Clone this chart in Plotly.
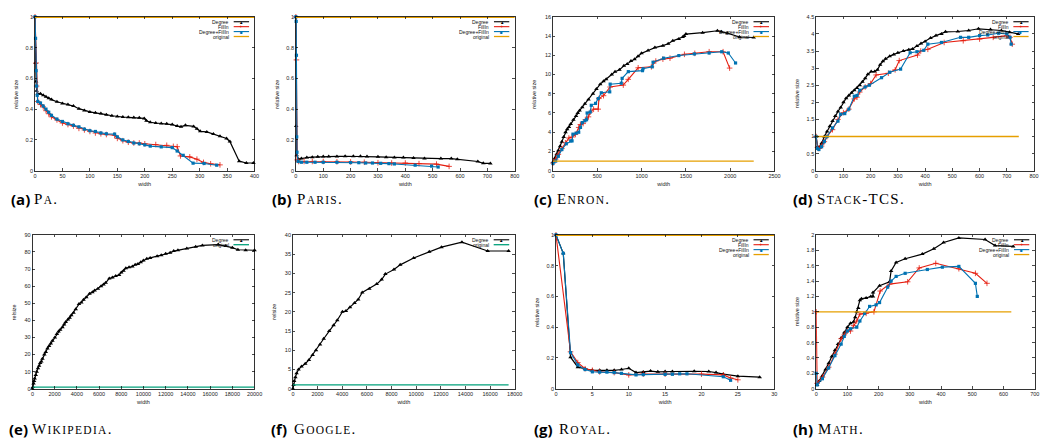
import plotly.graph_objects as go

W, H = 1047, 448

# ---------------- data ----------------
# (a) Pa
a_deg_x = [0, 1, 2, 3, 5, 10, 15, 20, 25, 30, 40, 50, 60, 70, 80, 90, 100, 110, 120, 130, 140, 150, 160, 170, 180, 190, 199, 203, 210, 220, 230, 240, 250, 259, 266, 274, 289, 295, 301, 313, 325, 337, 349, 355, 372, 385, 398]
a_deg_y = [1.0, 0.7, 0.58, 0.52, 0.5, 0.5, 0.49, 0.48, 0.47, 0.462, 0.448, 0.437, 0.43, 0.42, 0.403, 0.392, 0.382, 0.376, 0.372, 0.364, 0.357, 0.352, 0.349, 0.347, 0.345, 0.344, 0.34, 0.325, 0.315, 0.31, 0.307, 0.305, 0.3, 0.29, 0.286, 0.295, 0.288, 0.272, 0.256, 0.252, 0.239, 0.224, 0.209, 0.19, 0.062, 0.05, 0.05]
a_fill_x = [0, 2, 3, 5, 10, 15, 20, 25, 30, 40, 50, 60, 70, 80, 90, 100, 110, 120, 130, 145, 150, 160, 170, 180, 190, 200, 220, 240, 252, 259, 265, 282, 295, 307, 320, 337]
a_fill_y = [1.0, 0.7, 0.55, 0.45, 0.43, 0.415, 0.39, 0.37, 0.35, 0.33, 0.31, 0.30, 0.29, 0.275, 0.265, 0.255, 0.245, 0.24, 0.235, 0.23, 0.21, 0.195, 0.185, 0.18, 0.18, 0.175, 0.17, 0.165, 0.158, 0.156, 0.096, 0.09, 0.075, 0.054, 0.045, 0.038]
a_both_x = [0, 1, 2, 3, 4, 5, 10, 15, 20, 25, 30, 40, 50, 60, 70, 80, 90, 100, 110, 120, 130, 145, 150, 160, 170, 180, 190, 200, 210, 230, 250, 259, 270, 288, 308, 331]
a_both_y = [1.0, 0.86, 0.65, 0.55, 0.49, 0.45, 0.44, 0.42, 0.40, 0.38, 0.36, 0.335, 0.32, 0.305, 0.295, 0.285, 0.27, 0.26, 0.255, 0.245, 0.24, 0.238, 0.22, 0.20, 0.19, 0.18, 0.175, 0.168, 0.16, 0.155, 0.15, 0.128, 0.10, 0.049, 0.047, 0.036]
a_orig_x = [0, 400]
a_orig_y = [1, 1]

# (b) Paris
b_deg_x = [0, 1, 3, 10, 20, 40, 60, 80, 100, 120, 150, 180, 210, 236, 260, 300, 330, 360, 393, 430, 470, 530, 568, 590, 665, 685, 711]
b_deg_y = [1.0, 0.29, 0.1, 0.075, 0.08, 0.085, 0.088, 0.09, 0.092, 0.093, 0.093, 0.094, 0.094, 0.094, 0.092, 0.09, 0.088, 0.086, 0.085, 0.082, 0.08, 0.079, 0.079, 0.075, 0.06, 0.048, 0.047]
b_fill_x = [0, 2, 5, 10, 30, 60, 100, 150, 200, 250, 300, 350, 400, 450, 514, 560]
b_fill_y = [1.0, 0.72, 0.07, 0.06, 0.06, 0.06, 0.06, 0.058, 0.057, 0.055, 0.052, 0.05, 0.05, 0.046, 0.043, 0.028]
b_both_x = [0, 1, 2, 3, 4, 8, 20, 40, 70, 100, 150, 200, 230, 255, 280, 310, 340, 360, 436, 496, 520]
b_both_y = [1.0, 0.97, 0.75, 0.22, 0.12, 0.06, 0.055, 0.055, 0.055, 0.055, 0.055, 0.053, 0.052, 0.05, 0.05, 0.048, 0.046, 0.044, 0.036, 0.03, 0.024]
b_orig_x = [0, 800]
b_orig_y = [1, 1]

# (c) Enron
c_deg_x = [0, 20, 40, 60, 80, 100, 120, 141, 160, 180, 200, 230, 260, 279, 300, 330, 360, 400, 451, 490, 533, 570, 600, 663, 700, 750, 800, 838, 880, 920, 960, 999, 1073, 1150, 1240, 1300, 1352, 1420, 1464, 1480, 1500, 1688, 1855, 1900, 1967, 2105, 2265]
c_deg_y = [0.9, 1.3, 1.7, 2.1, 2.55, 3.0, 3.5, 4.0, 4.3, 4.55, 4.85, 5.3, 5.7, 6.0, 6.25, 6.6, 6.95, 7.4, 8.0, 8.5, 9.0, 9.3, 9.5, 10.0, 10.3, 10.5, 10.9, 11.1, 11.4, 11.6, 11.9, 12.2, 12.5, 12.8, 13.0, 13.2, 13.5, 13.7, 13.9, 14.0, 14.2, 14.35, 14.55, 14.45, 14.3, 13.9, 13.85]
c_fill_x = [0, 30, 60, 100, 140, 179, 215, 253, 290, 309, 340, 365, 400, 421, 458, 510, 518, 570, 644, 793, 849, 961, 1110, 1160, 1240, 1320, 1483, 1600, 1762, 1919, 1993]
c_fill_y = [0.8, 1.2, 1.7, 2.3, 2.9, 3.4, 3.5, 3.76, 4.5, 4.8, 4.9, 5.3, 5.6, 6.1, 6.4, 6.4, 7.5, 7.8, 8.7, 8.9, 9.5, 10.7, 10.8, 11.4, 11.6, 11.7, 12.1, 12.2, 12.37, 12.37, 10.67]
c_both_x = [0, 30, 60, 100, 150, 200, 215, 225, 260, 290, 310, 330, 360, 378, 385, 420, 432, 480, 510, 545, 640, 645, 770, 780, 850, 1010, 1015, 1120, 1129, 1248, 1420, 1595, 1762, 1904, 1978, 2060]
c_both_y = [0.75, 1.0, 1.5, 2.2, 2.8, 3.1, 3.1, 3.8, 3.9, 4.0, 4.5, 5.0, 5.2, 5.3, 6.0, 6.1, 6.8, 7.0, 7.5, 8.1, 8.2, 9.0, 9.1, 9.6, 10.3, 10.4, 10.6, 10.8, 11.28, 11.7, 11.97, 12.14, 12.24, 12.37, 12.24, 11.2]
c_orig_x = [0, 2265]
c_orig_y = [1, 1]

# (d) Stack-TCS
d_deg_x = [0, 5, 10, 20, 30, 40, 50, 60, 70, 80, 90, 100, 110, 120, 130, 140, 150, 160, 170, 180, 190, 202, 215, 225, 235, 245, 255, 270, 285, 300, 320, 340, 354, 370, 385, 400, 420, 440, 460, 475, 520, 560, 596, 640, 680, 710, 742]
d_deg_y = [1.0, 0.7, 0.68, 0.8, 1.0, 1.15, 1.3, 1.45, 1.6, 1.73, 1.85, 2.0, 2.12, 2.2, 2.28, 2.35, 2.42, 2.5, 2.6, 2.7, 2.82, 2.9, 2.9, 2.95, 3.1, 3.2, 3.27, 3.35, 3.4, 3.45, 3.5, 3.54, 3.56, 3.65, 3.72, 3.78, 3.88, 3.95, 4.0, 4.06, 4.07, 4.1, 4.15, 4.13, 4.1, 4.05, 4.0]
d_fill_x = [0, 5, 10, 20, 30, 40, 60, 80, 100, 120, 140, 150, 160, 180, 200, 220, 265, 290, 305, 372, 384, 410, 470, 540, 600, 650, 700, 712, 720]
d_fill_y = [1.0, 0.68, 0.65, 0.72, 0.85, 1.0, 1.2, 1.5, 1.7, 1.8, 2.1, 2.15, 2.3, 2.45, 2.55, 2.8, 2.85, 2.95, 3.22, 3.38, 3.5, 3.55, 3.75, 3.8, 3.85, 3.9, 3.95, 3.9, 3.7]
d_both_x = [0, 5, 10, 20, 30, 40, 60, 80, 90, 105, 120, 140, 150, 160, 180, 195, 240, 270, 310, 345, 370, 395, 410, 460, 530, 560, 600, 630, 670, 700, 712, 716]
d_both_y = [1.0, 0.65, 0.62, 0.7, 0.85, 1.0, 1.25, 1.45, 1.65, 1.67, 1.8, 2.18, 2.2, 2.35, 2.45, 2.5, 2.72, 2.88, 2.97, 3.45, 3.48, 3.52, 3.7, 3.75, 3.9, 3.9, 3.95, 3.97, 4.02, 4.0, 3.9, 3.7]
d_orig_x = [0, 744]
d_orig_y = [1, 1]

# (e) Wikipedia
e_deg_x = [0, 50, 100, 150, 200, 300, 386, 500, 600, 700,
           800, 900, 1070, 1200, 1350, 1500, 1650, 1800, 2020, 2200,
           2350, 2500, 2700, 2850, 3000, 3200, 3350, 3500, 3700, 3900,
           4190, 4400, 4600, 4850, 5140, 5400, 5600, 5900, 6180, 6400,
           6600, 6920, 7200, 7500, 7800, 8000, 8200, 8410, 8700, 9000,
           9250, 9500, 9750, 9990, 10300, 10600, 11230, 11600, 12000, 12400,
           12720, 13100, 13900, 14700, 15300, 16730, 17400, 18000, 18500, 19200,
           20000]
e_deg_y = [0, 1, 3, 4.5, 6, 8, 10, 12, 13.5, 15,
           16, 17.5, 20, 21.5, 23.5, 25, 26.5, 28, 30, 32,
           33.5, 34.5, 36, 37.5, 39, 40.5, 41.5, 43, 44.5, 46.5,
           49.5, 50.5, 52, 53.5, 55.5, 56.5, 57.5, 58.5, 60, 61,
           62, 64.5, 65, 66, 66.5, 68, 69, 70.5, 71, 71.5,
           72.5, 73, 74, 75, 76, 76.5, 77.5, 78, 79, 79.5,
           80.5, 81, 82, 83, 83.8, 84.3, 83.5, 82.5, 81.3, 81,
           81]
e_orig_x = [0, 20000]
e_orig_y = [1, 1]

# (f) Google
f_deg_x = [0, 50, 100, 200, 300, 455, 700, 1000, 1300, 1600,
           1875, 2200, 2500, 2946, 3300, 3600, 4018, 4300, 4634, 5000,
           5300, 5626, 6200, 6800, 7200, 7500, 8200, 8706, 9800, 11063,
           12054, 13715, 15805, 17500]
f_deg_y = [0, 1, 2, 3, 4, 5, 5.8, 6.5, 7.5, 8.8,
           10, 11.5, 13, 15, 16.5, 17.8, 20, 20.2, 21.2, 22.3,
           23.2, 25, 26, 27.2, 28.4, 29.8, 31, 32.2, 34, 35.6,
           36.8, 38.1, 35.8, 35.8]
f_orig_x = [0, 17500]
f_orig_y = [1, 1]

# (g) Royal
g_deg_x = [0, 1, 2, 3, 4, 5, 6, 7, 8, 9, 10, 11, 12, 13, 14, 15, 16, 19, 21, 22, 23, 25, 28]
g_deg_y = [1.0, 0.88, 0.205, 0.14, 0.13, 0.12, 0.12, 0.12, 0.12, 0.125, 0.133, 0.105, 0.108, 0.115, 0.11, 0.112, 0.112, 0.113, 0.112, 0.105, 0.095, 0.082, 0.075]
g_fill_x = [0, 2, 3, 4, 5, 6, 8, 10, 12, 15, 20, 23, 24, 25]
g_fill_y = [1.0, 0.24, 0.17, 0.13, 0.12, 0.11, 0.105, 0.09, 0.095, 0.095, 0.095, 0.09, 0.07, 0.058]
g_both_x = [0, 1, 2, 3, 4, 5, 6, 7, 8, 9, 11, 12, 15, 16, 17, 18, 23, 24]
g_both_y = [1.0, 0.88, 0.235, 0.155, 0.125, 0.11, 0.108, 0.108, 0.105, 0.10, 0.09, 0.092, 0.093, 0.094, 0.097, 0.097, 0.078, 0.055]
g_orig_x = [0, 30]
g_orig_y = [1, 1]

# (h) Math
h_deg_x = [3, 10, 20, 30, 40, 50, 60, 70, 80, 90, 100, 110, 120, 125, 130, 135, 140, 145, 160, 175, 182, 182, 203, 235, 240, 256, 285, 340, 377, 408, 457, 541, 573, 631]
h_deg_y = [0.05, 0.1, 0.17, 0.25, 0.33, 0.42, 0.5, 0.58, 0.66, 0.73, 0.8, 0.85, 0.87, 0.93, 1.0, 1.05, 1.15, 1.17, 1.18, 1.2, 1.2, 1.25, 1.34, 1.39, 1.53, 1.64, 1.69, 1.75, 1.82, 1.9, 1.96, 1.94, 1.86, 1.85]
h_fill_x = [0, 3, 20, 40, 60, 80, 90, 100, 110, 120, 130, 140, 160, 185, 205, 235, 293, 330, 383, 457, 510, 547]
h_fill_y = [1.0, 0.07, 0.15, 0.28, 0.45, 0.65, 0.7, 0.75, 0.75, 0.82, 0.88, 0.97, 0.98, 1.0, 1.27, 1.36, 1.39, 1.57, 1.63, 1.56, 1.5, 1.37]
h_both_x = [0, 3, 20, 40, 60, 80, 90, 100, 110, 130, 140, 155, 171, 192, 203, 229, 240, 256, 285, 356, 404, 457, 510, 516]
h_both_y = [0.2, 0.05, 0.13, 0.27, 0.43, 0.58, 0.68, 0.75, 0.78, 0.8, 0.88, 0.98, 1.07, 1.09, 1.12, 1.32, 1.4, 1.46, 1.5, 1.55, 1.58, 1.59, 1.37, 1.2]
h_orig_x = [0, 625]
h_orig_y = [1, 1]

series_names = ["Degree", "FillIn", "Degree+FillIn", "original"]
captions = [("(a)", "P", "A", ""), ("(b)", "P", "ARIS", ""), ("(c)", "E", "NRON", ""),
            ("(d)", "S", "TACK", "-TCS"), ("(e)", "W", "IKIPEDIA", ""), ("(f)", "G", "OOGLE", ""),
            ("(g)", "R", "OYAL", ""), ("(h)", "M", "ATH", "")]

# ---------------- styling ----------------
BLACK, RED, BLUE, ORANGE, GREEN = "#000000", "#e51e10", "#0072b2", "#e69f00", "#00a07a"

panels = [
    dict(series=[(a_deg_x, a_deg_y), (a_fill_x, a_fill_y), (a_both_x, a_both_y), (a_orig_x, a_orig_y)],
         xr=400, dx=50, yr=1, dy=0.2, yt="relative size", ocol=ORANGE),
    dict(series=[(b_deg_x, b_deg_y), (b_fill_x, b_fill_y), (b_both_x, b_both_y), (b_orig_x, b_orig_y)],
         xr=800, dx=100, yr=1, dy=0.2, yt="relative size", ocol=ORANGE),
    dict(series=[(c_deg_x, c_deg_y), (c_fill_x, c_fill_y), (c_both_x, c_both_y), (c_orig_x, c_orig_y)],
         xr=2500, dx=500, yr=16, dy=2, yt="relative size", ocol=ORANGE),
    dict(series=[(d_deg_x, d_deg_y), (d_fill_x, d_fill_y), (d_both_x, d_both_y), (d_orig_x, d_orig_y)],
         xr=800, dx=100, yr=4.5, dy=0.5, yt="relative size", ocol=ORANGE),
    dict(series=[(e_deg_x, e_deg_y), None, None, (e_orig_x, e_orig_y)],
         xr=20000, dx=2000, yr=90, dy=10, yt="relsize", ocol=GREEN),
    dict(series=[(f_deg_x, f_deg_y), None, None, (f_orig_x, f_orig_y)],
         xr=18000, dx=2000, yr=40, dy=5, yt="relsize", ocol=GREEN),
    dict(series=[(g_deg_x, g_deg_y), (g_fill_x, g_fill_y), (g_both_x, g_both_y), (g_orig_x, g_orig_y)],
         xr=30, dx=5, yr=1, dy=0.2, yt="relative size", ocol=ORANGE),
    dict(series=[(h_deg_x, h_deg_y), (h_fill_x, h_fill_y), (h_both_x, h_both_y), (h_orig_x, h_orig_y)],
         xr=700, dx=100, yr=2, dy=0.2, yt="relative size", ocol=ORANGE),
]

# plot boxes in pixels (left, right, top, bottom)
boxes = [(33.3, 255, 14, 170), (296.7, 517.7, 14, 170), (556.3, 780, 14, 170), (822, 1042, 14, 170),
         (30.7, 255, 235, 391), (293.7, 517.7, 235, 391), (559.3, 779.7, 235, 391), (822, 1042.7, 235, 391)]
cap_pos = [(7, 30, 199), (271, 296, 199), (535, 558, 199), (797, 821, 199),
           (5, 28, 432), (270, 293, 432), (535, 560, 432), (797, 822, 432)]

TICKFONT = dict(family="Liberation Sans, Arial, sans-serif", size=5.5, color="#222")

fig = go.Figure()
shapes, annotations = [], []
layout = {}

for i, (p, box) in enumerate(zip(panels, boxes)):
    n = i + 1
    xa, ya = ("x" if n == 1 else f"x{n}"), ("y" if n == 1 else f"y{n}")
    l, r, t, b = box
    layout["xaxis" if n == 1 else f"xaxis{n}"] = dict(
        domain=[l / W, r / W], anchor=ya, range=[-p["xr"] * 1e-4, p["xr"]], tickmode="linear", tick0=0,
        dtick=p["dx"], tickformat="d", ticks="inside", ticklen=2.5, tickwidth=0.7, tickcolor="#000",
        mirror="allticks", showline=True, linecolor="#000", linewidth=0.8, showgrid=False, zeroline=False,
        tickfont=TICKFONT, title=dict(text="width", font=TICKFONT, standoff=3))
    layout["yaxis" if n == 1 else f"yaxis{n}"] = dict(
        domain=[1 - b / H, 1 - t / H], anchor=xa, range=[-p["yr"] * 1e-4, p["yr"]], tickmode="linear", tick0=0,
        dtick=p["dy"], ticks="inside", ticklen=2.5, tickwidth=0.7, tickcolor="#000", mirror="allticks",
        showline=True, linecolor="#000", linewidth=0.8, showgrid=False, zeroline=False,
        tickfont=TICKFONT)

    top_line = p["yr"] == 1
    styles = [
        dict(mode="lines+markers", line=dict(color=BLACK, width=1.2),
             marker=dict(symbol="triangle-up", size=4, color=BLACK)),
        dict(mode="lines+markers", line=dict(color=RED, width=1.1),
             marker=dict(symbol="cross-thin", size=4, color=RED, line=dict(color=RED, width=0.8))),
        dict(mode="lines+markers", line=dict(color=BLUE, width=1.1),
             marker=dict(symbol="square", size=3.2, color=BLUE)),
        dict(mode="lines", line=dict(color=p["ocol"], width=2.2 if top_line else 1.3)),
    ]
    entries = []
    for k, s in enumerate(p["series"]):
        if s is None:
            continue
        xs, ys = s
        m = min(len(xs), len(ys))
        fig.add_trace(go.Scatter(x=xs[:m], y=ys[:m], xaxis=xa, yaxis=ya, name=series_names[k],
                                 showlegend=False, cliponaxis=False, hoverinfo="skip", **styles[k]))
        entries.append(k)

    xd, yd = f"{xa} domain", f"{ya} domain"
    # y-axis title at a fixed offset from the frame (gnuplot style)
    annotations.append(dict(xref=xd, yref=yd, x=0, y=0.5, xshift=-19, xanchor="center", yanchor="middle",
                            textangle=-90, text=p["yt"], showarrow=False, font=TICKFONT))

    # gnuplot-style key (text, then sample line with marker) inside top-right
    glyphs = {0: ("▲", BLACK, 4.5), 1: ("+", RED, 6), 2: ("■", BLUE, 4.5)}
    for j, k in enumerate(entries):
        yk = 0.968 - 0.032 * j
        col = [BLACK, RED, BLUE, p["ocol"]][k]
        annotations.append(dict(xref=xd, yref=yd, x=0.893, y=yk, xanchor="right", yanchor="middle",
                                text=series_names[k], showarrow=False,
                                font=dict(family="Liberation Sans, Arial, sans-serif", size=5, color="#111")))
        shapes.append(dict(type="line", xref=xd, yref=yd, x0=0.905, x1=0.975, y0=yk, y1=yk,
                           line=dict(color=col, width=1.1 if k < 3 else 1.3)))
        if k in glyphs:
            g, gc, gs = glyphs[k]
            annotations.append(dict(xref=xd, yref=yd, x=0.94, y=yk, xanchor="center", yanchor="middle",
                                    text=g, showarrow=False, font=dict(size=gs, color=gc)))

    # caption
    lab, cap1, cap2, cap3 = captions[i]
    xl, xn, yc = cap_pos[i]
    annotations.append(dict(xref="paper", yref="paper", x=xl / W, y=1 - yc / H, xanchor="left", yanchor="middle",
                            text=f"<b>{lab}</b>", showarrow=False,
                            font=dict(family="Open Sans, sans-serif", size=15, color="#000")))
    ls = "letter-spacing:1.3px"
    name = (f"<span style='{ls}'>{cap1}</span><span style='font-size:11.5px;{ls}'>{cap2}</span>"
            f"<span style='{ls}'>{cap3}.</span>")
    annotations.append(dict(xref="paper", yref="paper", x=xn / W, y=1 - yc / H, xanchor="left", yanchor="middle",
                            text=name, showarrow=False,
                            font=dict(family="Liberation Serif, serif", size=15, color="#000")))

fig.update_layout(width=W, height=H, margin=dict(l=0, r=0, t=0, b=0), paper_bgcolor="white",
                  plot_bgcolor="white", showlegend=False, hovermode=False,
                  shapes=shapes, annotations=annotations, **layout)
fig.write_html("out.html", config={"displayModeBar": False, "staticPlot": True},
               post_script="document.body.style.margin='0px';document.body.style.overflow='hidden';")
